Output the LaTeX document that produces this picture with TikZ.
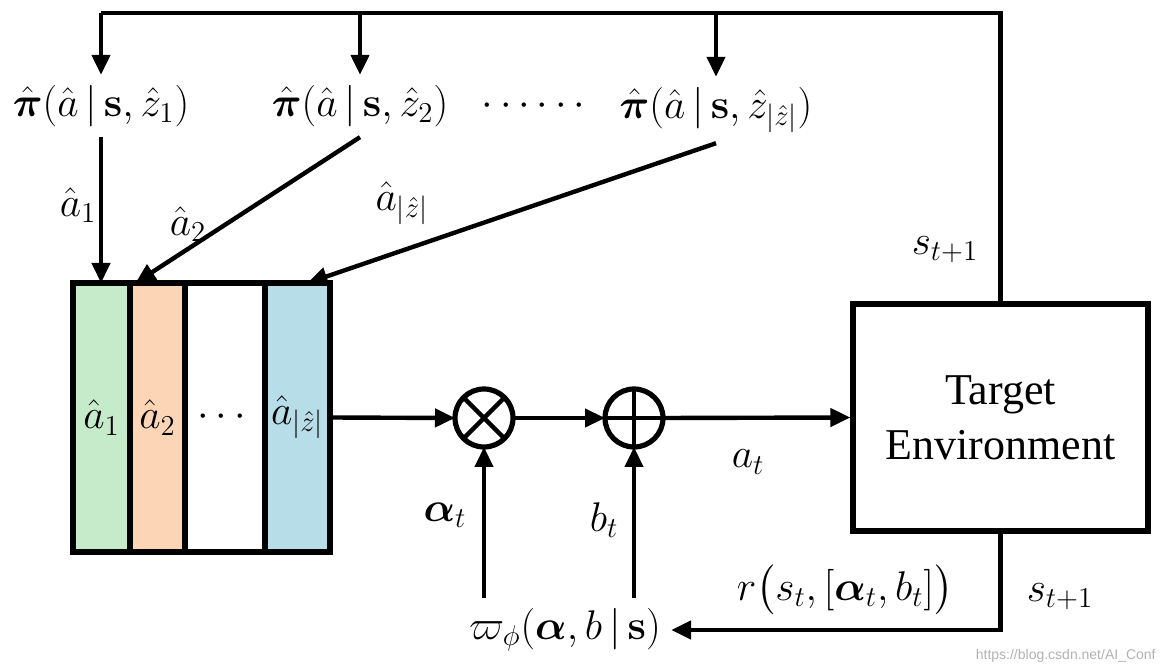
\documentclass[tikz,border=0pt]{standalone}
\usepackage{amsmath}
\usepackage[no-math]{fontspec}
\setmainfont{Liberation Serif}
\setsansfont{Liberation Sans}
\usetikzlibrary{arrows.meta}
\definecolor{colG}{RGB}{198,235,203}
\definecolor{colO}{RGB}{251,213,181}
\definecolor{colB}{RGB}{183,221,232}
\begin{document}
\begin{tikzpicture}[x=0.5pt,y=-0.5pt,
  font=\fontsize{22}{27.5}\selectfont,
  line/.style={line width=2.2pt},
  arr/.style={line width=2.2pt,-{Triangle[length=10pt,width=9pt]}},
  col/.style={draw,line width=2.6pt,minimum height=134.5pt,inner sep=0pt,outer sep=0pt,anchor=north west},
  op/.style={circle,draw,line width=2.6pt,minimum size=29pt,inner sep=0pt,outer sep=0pt},
  pol/.style={inner sep=5pt},
  lbl/.style={inner sep=1pt}]
\useasboundingbox (0,0) rectangle (1160,672);
% policy nodes
\node[pol] (p1) at (101,106) {$\hat{\boldsymbol\pi}(\hat a\,|\,\mathbf{s},\hat z_1)$};
\node[pol] (p2) at (360,106) {$\hat{\boldsymbol\pi}(\hat a\,|\,\mathbf{s},\hat z_2)$};
\node[pol] (dots) at (537,106) {$\cdots\cdots$};
\node[pol] (p3) at (716,110) {$\hat{\boldsymbol\pi}(\hat a\,|\,\mathbf{s},\hat z_{|\hat z|})$};
% action columns
\node[col,fill=colG,minimum width=28.5pt] (c1) at (73,283) {$\hat a_1$};
\node[col,fill=colO,minimum width=27.5pt] (c2) at (130,283) {$\hat a_2$};
\node[col,fill=white,minimum width=40pt] (c3) at (185,283) {$\cdots$};
\node[col,fill=colB,minimum width=32.5pt] (c4) at (265,283) {$\hat a_{|\hat z|}$};
% operators
\node[op] (m) at (484,418) {};
\node[op] (p) at (634,418) {};
\draw[line] (m.north west) -- (m.south east) (m.north east) -- (m.south west);
\draw[line] (p.north) -- (p.south) (p.west) -- (p.east);
% environment
\node[draw,line width=2.6pt,minimum width=147.5pt,minimum height=113.5pt,align=center] (env) at (1000.5,417.5) {Target\\Environment};
% policy w
\node[pol] (w) at (565,630) {$\varpi_\phi(\boldsymbol\alpha,b\,|\,\mathbf{s})$};
% top feedback
\coordinate (topy) at (0,13);
\draw[line] (env.north) -- (env.north |- topy) -- (p1.north |- topy);
\draw[arr] (p1.north |- topy) -- (p1.north);
\draw[arr] (p2.north |- topy) -- (p2.north);
\draw[arr] (p3.north |- topy) -- (p3.north);
% policies to columns
\draw[arr] (p1.south) -- (p1.south |- c1.north);
\draw[arr] (p2.south) -- ([xshift=-11pt]c2.north);
\draw[arr] (p3.south) -- ([xshift=5pt]c4.north);
% main flow
\draw[arr] (c4.east) -- (m.west);
\draw[arr] (m.east) -- (p.west);
\draw[arr] (p.east) -- (env.west);
\draw[arr] (m.south |- w.north) -- (m.south);
\draw[arr] (p.south |- w.north) -- (p.south);
\draw[arr] (env.south) |- (w.east);
% labels
\node[lbl] (l1) at (78,205) {$\hat a_1$};
\node[lbl] (l2) at (188,224) {$\hat a_2$};
\node[lbl] (l3) at (402,203) {$\hat a_{|\hat z|}$};
\node[lbl] (lat) at (748,462) {$a_t$};
\node[lbl] (lal) at (445,515) {$\boldsymbol\alpha_t$};
\node[lbl] (lbt) at (604,520) {$b_t$};
\node[lbl] (ls1) at (945,250) {$s_{t+1}$};
\node[lbl] (ls2) at (1060,597) {$s_{t+1}$};
\node[lbl] (lr) at (845,590) {$r\big(s_t,[\boldsymbol\alpha_t,b_t]\big)$};
\node[font=\fontsize{7}{8}\selectfont\sffamily,text=black!30,anchor=east,inner sep=0pt] (wm) at (1156,656) {https://blog.csdn.net/AI\_Conf};
\end{tikzpicture}
\end{document}
